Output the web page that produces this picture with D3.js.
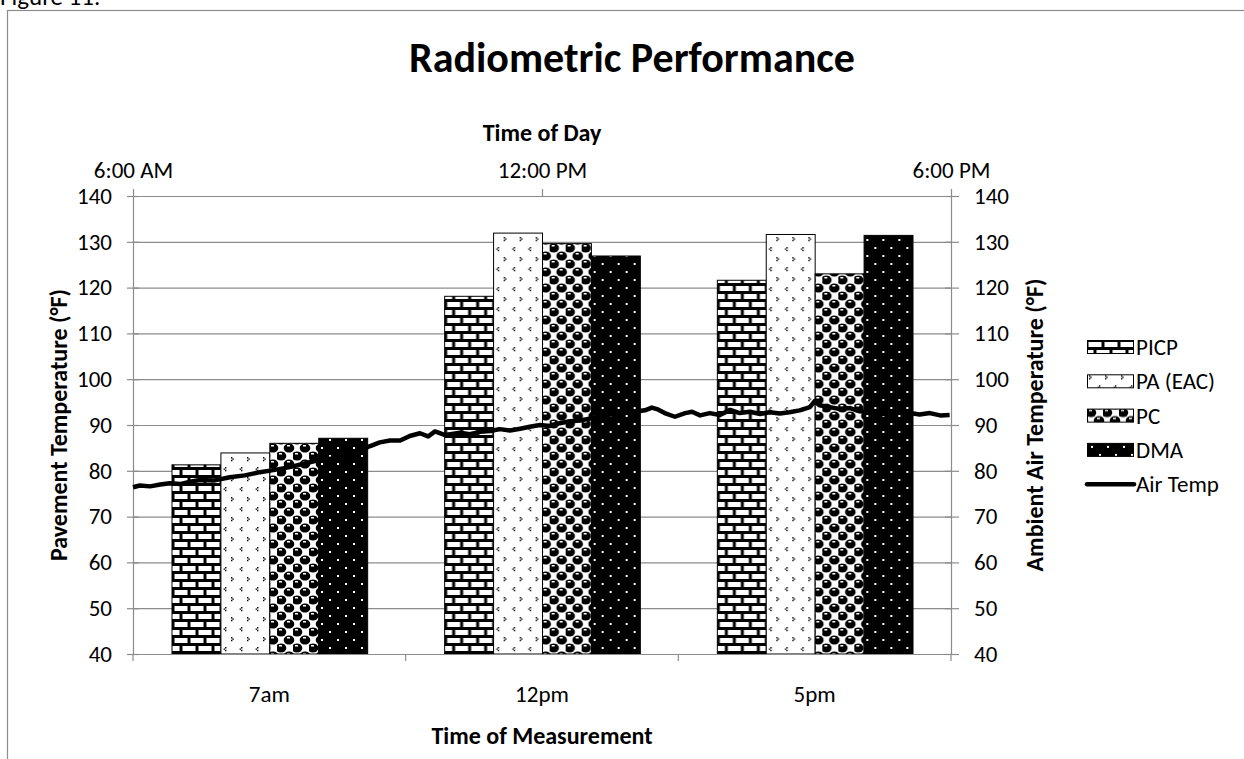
<!DOCTYPE html>
<html>
<head>
<meta charset="utf-8">
<script src="https://cdn.jsdelivr.net/npm/d3@7"></script>
<style>
  body { margin: 0; background: #fff; }
  svg { display: block; font-family: Calibri, Carlito, Lato, sans-serif; }
</style>
</head>
<body>
<div id="chart"></div>
<script>
// categories and series
var categories = ["7am", "12pm", "5pm"];
var seriesNames = ["PICP", "PA (EAC)", "PC", "DMA"];
var picp = [81.3, 118.1, 121.6];
var paEac = [83.9, 131.9, 131.6];
var pc = [86.0, 129.6, 123.0];
var dma = [87.1, 126.9, 131.4];

// air temperature trace (hour of day, °F)
var airTime = [6.00, 6.10, 6.25, 6.40, 6.54, 6.69, 6.84, 6.98, 7.20, 7.42, 7.64, 7.86, 8.08, 8.30,
  8.52, 8.74, 8.96, 9.18, 9.33, 9.48, 9.62, 9.77, 9.92, 10.06, 10.21, 10.33, 10.43, 10.58, 10.80,
  10.94, 11.09, 11.24, 11.38, 11.53, 11.68, 11.82, 11.97, 12.12, 12.26, 12.41, 12.56, 12.70, 12.85,
  13.07, 13.29, 13.51, 13.61, 13.70, 13.80, 13.95, 14.10, 14.20, 14.32, 14.46, 14.61, 14.76, 14.90,
  15.05, 15.20, 15.34, 15.49, 15.63, 15.78, 15.93, 16.00, 16.07, 16.22, 16.37, 16.52, 16.66, 16.81,
  16.96, 17.10, 17.25, 17.40, 17.54, 17.69, 17.84, 17.98];
var airTemp = [76.4, 76.8, 76.6, 77.0, 77.3, 77.1, 77.6, 78.0, 77.9, 78.6, 79.0, 79.7, 80.2, 80.8,
  81.6, 82.4, 82.7, 83.2, 84.4, 85.4, 86.2, 86.6, 86.6, 87.6, 88.2, 87.5, 88.6, 87.8, 88.3,
  88.0, 88.5, 88.7, 89.1, 88.8, 89.2, 89.6, 90.0, 89.8, 90.4, 90.8, 91.0, 91.4, 92.0,
  92.4, 92.8, 93.2, 93.8, 93.4, 92.6, 91.8, 92.6, 92.9, 92.1, 92.6, 92.2, 93.3, 92.6,
  92.9, 92.4, 92.8, 92.5, 92.8, 93.2, 93.9, 95.2, 94.3, 93.9, 93.5, 93.7, 93.0, 92.8,
  92.3, 92.6, 92.9, 92.6, 92.3, 92.6, 92.1, 92.2];

var yTicks = [40, 50, 60, 70, 80, 90, 100, 110, 120, 130, 140];
var timeTicks = [6, 12, 18];
var timeLabels = ["6:00 AM", "12:00 PM", "6:00 PM"];

var W = 1244, H = 759;
var margin = { top: 196, right: 293, bottom: 105, left: 133 },
  width = W - margin.left - margin.right,
  height = H - margin.top - margin.bottom;

var svg = d3.select("#chart")
  .append("svg")
  .attr("width", W)
  .attr("height", H);

// patterns
var defs = svg.append("defs");

var brick = defs.append("pattern").attr("id", "pat-picp")
  .attr("patternUnits", "userSpaceOnUse").attr("width", 16).attr("height", 16);
brick.append("rect").attr("width", 16).attr("height", 16).attr("fill", "#000");
brick.append("rect").attr("x", 1.5).attr("y", 2).attr("width", 13).attr("height", 5).attr("fill", "#fff");
brick.append("rect").attr("x", -6.5).attr("y", 10).attr("width", 13).attr("height", 5).attr("fill", "#fff");
brick.append("rect").attr("x", 9.5).attr("y", 10).attr("width", 13).attr("height", 5).attr("fill", "#fff");

// small chevrons for the confetti-like fill
var conf = defs.append("pattern").attr("id", "pat-pa")
  .attr("patternUnits", "userSpaceOnUse").attr("width", 16).attr("height", 20);
conf.append("rect").attr("width", 16).attr("height", 20).attr("fill", "#fff");
conf.append("path").attr("d", "M2,1h1.4v1.4h-1.4zM3.4,2.4h1.4v1.4h-1.4zM2,3.8h1.4v1.4h-1.4z").attr("fill", "#000");
conf.append("path").attr("d", "M12,11h1.4v1.4h-1.4zM10.6,12.4h1.4v1.4h-1.4zM12,13.8h1.4v1.4h-1.4z").attr("fill", "#000");

var sph = defs.append("pattern").attr("id", "pat-pc")
  .attr("patternUnits", "userSpaceOnUse").attr("width", 16).attr("height", 16);
sph.append("rect").attr("width", 16).attr("height", 16).attr("fill", "#fff");
[[4, 4], [12, 12], [-4, 12], [20, 12], [12, -4], [4, 20], [20, -4], [-4, -4], [20, 20], [-4, 20]].forEach(function(c) {
  sph.append("ellipse").attr("cx", c[0]).attr("cy", c[1]).attr("rx", 5.3).attr("ry", 4.6).attr("fill", "#000");
  sph.append("rect").attr("x", c[0] - 2).attr("y", c[1] - 3).attr("width", 3).attr("height", 1.5).attr("fill", "#fff");
});

var dots = defs.append("pattern").attr("id", "pat-dma")
  .attr("patternUnits", "userSpaceOnUse").attr("width", 16).attr("height", 16);
dots.append("rect").attr("width", 16).attr("height", 16).attr("fill", "#000");
dots.append("rect").attr("x", 4).attr("y", 3).attr("width", 2).attr("height", 2).attr("fill", "#fff");
dots.append("rect").attr("x", 12).attr("y", 11).attr("width", 2).attr("height", 2).attr("fill", "#fff");

var fills = ["url(#pat-picp)", "url(#pat-pa)", "url(#pat-pc)", "url(#pat-dma)"];
var values = [picp, paEac, pc, dma];

// outer chart border (cropped by the page)
svg.append("rect")
  .attr("x", 7.5).attr("y", 10.5)
  .attr("width", W + 20).attr("height", H + 20)
  .attr("fill", "none").attr("stroke", "#8c8c8c").attr("stroke-width", 1.2);

svg.append("text")
  .attr("x", 0).attr("y", 5)
  .style("font-size", "25px")
  .text("Figure 11.");

var g = svg.append("g")
  .attr("transform", "translate(" + margin.left + "," + margin.top + ")");

// scales
var x = d3.scaleBand().domain(categories).range([0, width]).paddingInner(0).paddingOuter(0);
var xSub = d3.scaleBand().domain(seriesNames).range([39, x.bandwidth() - 38]);
var y = d3.scaleLinear().domain([40, 140]).range([height, 0]);
var t = d3.scaleLinear().domain([6, 18]).range([0, width]);

// gridlines
g.append("g").selectAll("line")
  .data(yTicks.slice(1))
  .enter().append("line")
  .attr("x1", 0).attr("x2", width)
  .attr("y1", function(d) { return y(d) + 0.5; })
  .attr("y2", function(d) { return y(d) + 0.5; })
  .attr("stroke", "#8c8c8c").attr("stroke-width", 1.2);

// bars
var groups = g.append("g").selectAll("g")
  .data(categories)
  .enter().append("g")
  .attr("transform", function(d) { return "translate(" + x(d) + ",0)"; });

groups.selectAll("rect")
  .data(function(d, i) { return seriesNames.map(function(s, j) { return { s: s, v: values[j][i], f: fills[j] }; }); })
  .enter().append("rect")
  .attr("x", function(d) { return xSub(d.s); })
  .attr("width", xSub.bandwidth())
  .attr("y", function(d) { return y(d.v); })
  .attr("height", function(d) { return height - y(d.v); })
  .attr("fill", function(d) { return d.f; })
  .attr("stroke", "#000").attr("stroke-width", 1);

// axis styling helper
function styleAxis(sel) {
  sel.select(".domain").attr("stroke", "#8c8c8c").attr("stroke-width", 1.2);
  sel.selectAll(".tick line").attr("stroke", "#8c8c8c").attr("stroke-width", 1.2);
  sel.selectAll("text").style("font-size", "23px").attr("fill", "#000")
    .style("font-family", "Calibri, Carlito, Lato, sans-serif");
}

// left axis (cross ticks)
var yl = g.append("g")
  .call(d3.axisLeft(y).tickValues(yTicks).tickSize(6).tickSizeOuter(0).tickPadding(15));
yl.selectAll(".tick line").attr("x2", -6).attr("x1", 6);
styleAxis(yl);

// right axis
var yr = g.append("g")
  .attr("transform", "translate(" + width + ",0)")
  .call(d3.axisRight(y).tickValues(yTicks).tickSize(8).tickSizeOuter(0).tickPadding(15));
yr.selectAll(".tick line").attr("x1", -6);
styleAxis(yr);

// bottom category axis
var xb = g.append("g")
  .attr("transform", "translate(0," + height + ")")
  .call(d3.axisBottom(x).tickSize(0).tickPadding(32));
xb.selectAll(".tick line").remove();
styleAxis(xb);
xb.select(".domain").remove();
g.append("line").attr("x1", 0).attr("x2", width)
  .attr("y1", height + 0.5).attr("y2", height + 0.5)
  .attr("stroke", "#8c8c8c").attr("stroke-width", 1.2);
g.append("g").selectAll("line")
  .data([0, 1, 2, 3])
  .enter().append("line")
  .attr("x1", function(d) { return d * x.step(); })
  .attr("x2", function(d) { return d * x.step(); })
  .attr("y1", height).attr("y2", height + 7)
  .attr("stroke", "#8c8c8c").attr("stroke-width", 1.2);

// top time axis
var xt = g.append("g")
  .call(d3.axisTop(t).tickValues(timeTicks).tickSize(7).tickSizeOuter(0).tickPadding(11)
    .tickFormat(function(d, i) { return timeLabels[i]; }));
styleAxis(xt);

// air temperature line
var line = d3.line()
  .x(function(d) { return t(d[0]); })
  .y(function(d) { return y(d[1]); })
  .curve(d3.curveLinear);

g.append("path")
  .datum(d3.zip(airTime, airTemp))
  .attr("d", line)
  .attr("fill", "none")
  .attr("stroke", "#000")
  .attr("stroke-width", 4.5)
  .attr("stroke-linejoin", "round");

// titles
svg.append("text")
  .attr("x", 632).attr("y", 72)
  .attr("text-anchor", "middle")
  .style("font-size", "42px").style("font-weight", "bold")
  .text("Radiometric Performance");

svg.append("text")
  .attr("x", margin.left + width / 2).attr("y", 141)
  .attr("text-anchor", "middle")
  .style("font-size", "24px").style("font-weight", "bold")
  .text("Time of Day");

svg.append("text")
  .attr("x", margin.left + width / 2).attr("y", 744)
  .attr("text-anchor", "middle")
  .style("font-size", "24px").style("font-weight", "bold")
  .text("Time of Measurement");

svg.append("text")
  .attr("transform", "translate(67," + (margin.top + height / 2) + ") rotate(-90)")
  .attr("text-anchor", "middle")
  .style("font-size", "24px").style("font-weight", "bold")
  .text("Pavement Temperature (°F)");

svg.append("text")
  .attr("transform", "translate(1043," + (margin.top + height / 2) + ") rotate(-90)")
  .attr("text-anchor", "middle")
  .style("font-size", "24px").style("font-weight", "bold")
  .text("Ambient Air Temperature (°F)");

// legend
var legendNames = seriesNames.concat(["Air Temp"]);
var legend = svg.append("g").attr("transform", "translate(1087,340)");
var item = legend.selectAll("g")
  .data(legendNames)
  .enter().append("g")
  .attr("transform", function(d, i) { return "translate(0," + (i * 34.3) + ")"; });

item.filter(function(d, i) { return i < 4; })
  .append("rect")
  .attr("x", 0.5).attr("y", 0.5).attr("width", 46).attr("height", 13)
  .attr("fill", function(d, i) { return fills[i]; })
  .attr("stroke", "#000").attr("stroke-width", 1);

item.filter(function(d, i) { return i === 4; })
  .append("line")
  .attr("x1", 0).attr("x2", 47).attr("y1", 7).attr("y2", 7)
  .attr("stroke", "#000").attr("stroke-width", 4.5).attr("stroke-linecap", "round");

item.append("text")
  .attr("x", 49).attr("y", 15)
  .style("font-size", "23px")
  .text(function(d) { return d; });
</script>
</body>
</html>
